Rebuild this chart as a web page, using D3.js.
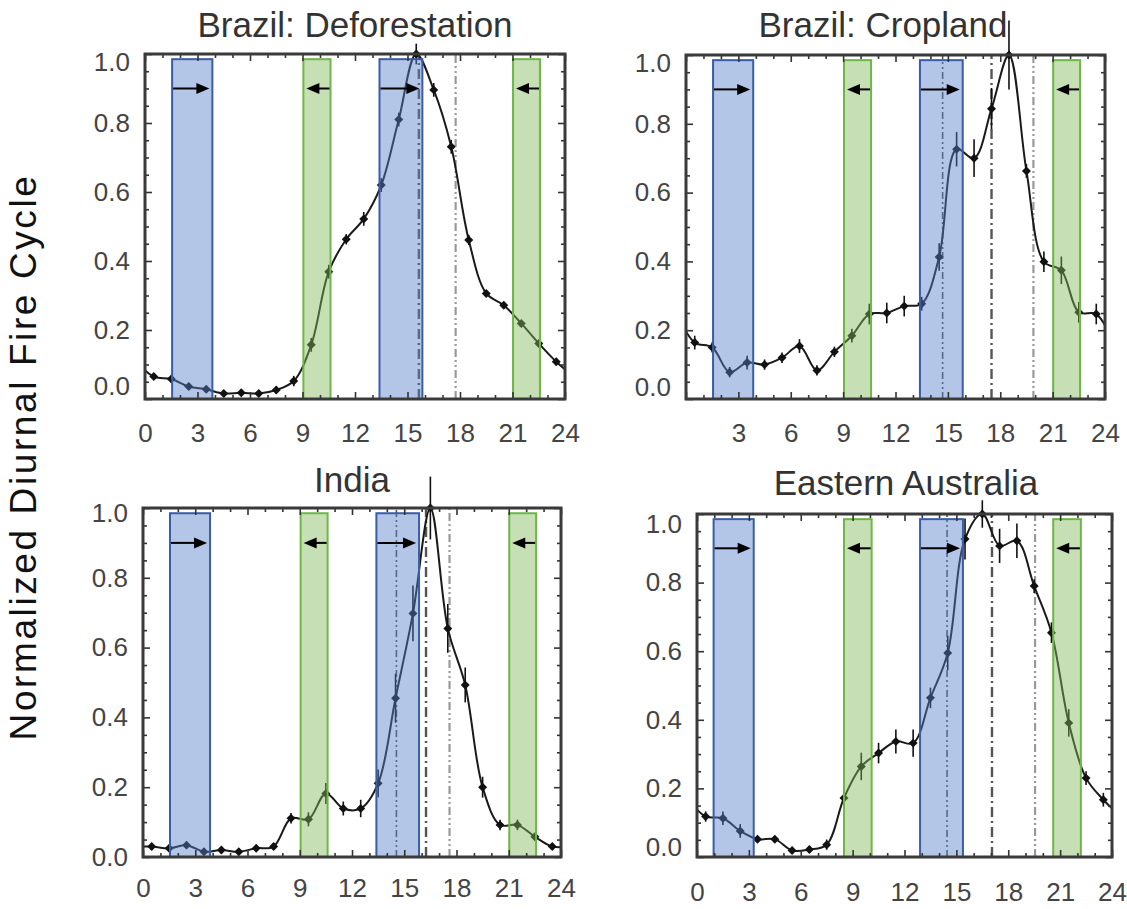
<!DOCTYPE html>
<html>
<head>
<meta charset="utf-8">
<script src="https://cdn.jsdelivr.net/npm/d3@7"></script>
<style>
  body { margin: 0; background: #fff; }
  text { font-family: "Liberation Sans", Arial, sans-serif; }
</style>
</head>
<body>
<div id="chart"></div>
<script>
// local hour of each sample (bin centres)
const hours = [0.5, 1.5, 2.5, 3.5, 4.5, 5.5, 6.5, 7.5, 8.5, 9.5, 10.5, 11.5,
               12.5, 13.5, 14.5, 15.5, 16.5, 17.5, 18.5, 19.5, 20.5, 21.5, 22.5, 23.5];
const hourTicks = [0, 3, 6, 9, 12, 15, 18, 21, 24];
const yTicks = [0, 0.2, 0.4, 0.6, 0.8, 1.0];

// normalized diurnal fire cycle
const deforestation = [0.065, 0.058, 0.036, 0.028, 0.016, 0.018, 0.016, 0.026, 0.052, 0.157, 0.369, 0.463,
                       0.522, 0.620, 0.810, 1.000, 0.896, 0.731, 0.461, 0.306, 0.272, 0.219, 0.161, 0.108];
const deforestationErr = [0.01, 0.01, 0.01, 0.01, 0.01, 0.01, 0.01, 0.01, 0.015, 0.02, 0.02, 0.015,
                          0.02, 0.02, 0.02, 0.03, 0.02, 0.02, 0.015, 0.01, 0.01, 0.01, 0.01, 0.01];

const cropland = [0.164, 0.150, 0.078, 0.106, 0.100, 0.120, 0.154, 0.083, 0.137, 0.184, 0.247, 0.250,
                  0.270, 0.277, 0.413, 0.726, 0.700, 0.844, 1.000, 0.663, 0.399, 0.374, 0.252, 0.247];
const croplandErr = [0.02, 0.015, 0.015, 0.02, 0.015, 0.015, 0.02, 0.015, 0.015, 0.02, 0.03, 0.03,
                     0.03, 0.02, 0.04, 0.05, 0.055, 0.06, 0.1, 0.02, 0.03, 0.04, 0.03, 0.03];

const india = [0.030, 0.025, 0.034, 0.015, 0.020, 0.015, 0.025, 0.030, 0.111, 0.108, 0.182, 0.139,
               0.139, 0.211, 0.455, 0.698, 1.000, 0.655, 0.493, 0.200, 0.092, 0.092, 0.058, 0.030];
const indiaErr = [0.01, 0.01, 0.01, 0.01, 0.01, 0.01, 0.01, 0.01, 0.015, 0.02, 0.03, 0.02,
                  0.025, 0.04, 0.07, 0.08, 0.09, 0.07, 0.05, 0.03, 0.015, 0.015, 0.01, 0.01];

const australia = [0.118, 0.113, 0.076, 0.052, 0.052, 0.019, 0.022, 0.036, 0.172, 0.264, 0.303, 0.337,
                   0.332, 0.464, 0.595, 0.927, 1.000, 0.907, 0.922, 0.790, 0.654, 0.391, 0.230, 0.167];
const australiaErr = [0.015, 0.02, 0.02, 0.01, 0.01, 0.01, 0.01, 0.015, 0.02, 0.04, 0.03, 0.035,
                      0.04, 0.03, 0.05, 0.06, 0.04, 0.05, 0.05, 0.02, 0.03, 0.04, 0.02, 0.02];

// overpass windows (hours): blue = ascending, green = descending
const blueWindows = [[1.55, 3.85], [13.4, 15.85]];
const greenWindows = [[9.05, 10.6], [21.03, 22.57]];
const blueWindowsAus = [[0.96, 3.28], [12.9, 15.38]];
const greenWindowsAus = [[8.5, 10.1], [20.6, 22.2]];

// vertical reference times: A = dash-dot-dot-dot, B = dash-dot, C = dash-dot-dot
const refDefor = [{h: 15.65, type: "B"}, {h: 17.75, type: "C"}];
const refCrop = [{h: 14.7, type: "A"}, {h: 17.5, type: "B"}, {h: 19.9, type: "C"}];
const refIndia = [{h: 14.55, type: "A"}, {h: 16.25, type: "B"}, {h: 17.6, type: "C"}];
const refAus = [{h: 14.46, type: "A"}, {h: 17.06, type: "B"}, {h: 19.55, type: "C"}];

const arrowLevel = 0.9;

const lineStyle = {
  A: {stroke: "#555", width: 1.6, dash: "7,3,2,3,2,3"},
  B: {stroke: "#555", width: 2.4, dash: "10,4,2,4"},
  C: {stroke: "#999", width: 2.2, dash: "8,3,2,3,2,3"}
};

const panels = [
  {title: "Brazil: Deforestation", values: deforestation, errors: deforestationErr,
   blue: blueWindows, green: greenWindows, refs: refDefor,
   xr: [145, 565], yr: [399, 54], titleX: 355, titleY: 37, labelY: 442, nudge: [-13, 8], zero: true},
  {title: "Brazil: Cropland", values: cropland, errors: croplandErr,
   blue: blueWindows, green: greenWindows, refs: refCrop,
   xr: [686, 1105], yr: [399, 55], titleX: 883, titleY: 37, labelY: 442, nudge: [-12, 8], zero: false},
  {title: "India", values: india, errors: indiaErr,
   blue: blueWindows, green: greenWindows, refs: refIndia,
   xr: [143, 561], yr: [857, 508], titleX: 352, titleY: 492, labelY: 897, nudge: [0, 5], zero: true},
  {title: "Eastern Australia", values: australia, errors: australiaErr,
   blue: blueWindowsAus, green: greenWindowsAus, refs: refAus,
   xr: [697, 1112], yr: [857, 514], titleX: 906, titleY: 495, labelY: 901, nudge: [-10, 10], zero: true}
];

const svg = d3.select("#chart").append("svg")
    .attr("width", 1127)
    .attr("height", 909);

panels.forEach((p, i) => {
  const x = d3.scaleLinear().domain([0, 24]).range(p.xr);
  const y = d3.scaleLinear().domain([0, 1]).range(p.yr);
  const g = svg.append("g");

  // clip for the curve
  const clipId = "clip" + i;
  svg.append("clipPath").attr("id", clipId)
    .append("rect")
      .attr("x", x(0)).attr("y", y(1))
      .attr("width", x(24) - x(0)).attr("height", y(0) - y(1));

  // reference time lines
  g.selectAll(".ref")
    .data(p.refs)
    .join("line")
      .attr("x1", d => x(d.h)).attr("x2", d => x(d.h))
      .attr("y1", y(0)).attr("y2", y(1))
      .attr("stroke", d => lineStyle[d.type].stroke)
      .attr("stroke-width", d => lineStyle[d.type].width)
      .attr("stroke-dasharray", d => lineStyle[d.type].dash);

  // periodic curve: wrap last/first sample around the day
  const pts = hours.map((h, k) => ({h: h, v: p.values[k], e: p.errors[k]}));
  const wrapped = [{h: hours[23] - 24, v: p.values[23]}, ...pts, {h: hours[0] + 24, v: p.values[0]}];

  g.append("path")
    .datum(wrapped)
    .attr("clip-path", `url(#${clipId})`)
    .attr("fill", "none")
    .attr("stroke", "#1a1a1a")
    .attr("stroke-width", 2)
    .attr("d", d3.line().x(d => x(d.h)).y(d => y(d.v)).curve(d3.curveCatmullRom.alpha(0.5)));

  // error bars
  g.selectAll(".err")
    .data(pts)
    .join("line")
      .attr("x1", d => x(d.h)).attr("x2", d => x(d.h))
      .attr("y1", d => y(d.v - d.e)).attr("y2", d => y(d.v + d.e))
      .attr("stroke", "#111")
      .attr("stroke-width", 1.6);

  // diamond markers
  g.selectAll(".pt")
    .data(pts)
    .join("path")
      .attr("d", d3.symbol(d3.symbolSquare, 40))
      .attr("transform", d => `translate(${x(d.h)},${y(d.v)}) rotate(45)`)
      .attr("fill", "#111");

  // overpass windows, drawn translucent over the curve
  g.selectAll(".blue")
    .data(p.blue)
    .join("rect")
      .attr("x", d => x(d[0])).attr("width", d => x(d[1]) - x(d[0]))
      .attr("y", y(0.985)).attr("height", y(0) - y(0.985))
      .attr("fill", "rgb(86,128,202)").attr("fill-opacity", 0.45)
      .attr("stroke", "#3a5da6").attr("stroke-width", 2);

  g.selectAll(".green")
    .data(p.green)
    .join("rect")
      .attr("x", d => x(d[0])).attr("width", d => x(d[1]) - x(d[0]))
      .attr("y", y(0.985)).attr("height", y(0) - y(0.985))
      .attr("fill", "rgb(128,184,88)").attr("fill-opacity", 0.45)
      .attr("stroke", "#6fb648").attr("stroke-width", 2);

  // arrows: blue point forward, green point back
  const ay = y(arrowLevel);
  const head = (tx, dir) => `M${tx},${ay} L${tx - dir * 13},${ay - 5.5} L${tx - dir * 13},${ay + 5.5} Z`;
  p.blue.forEach(w => {
    const x0 = x(w[0]) + 1, x1 = x(w[1]) - 3;
    g.append("line").attr("x1", x0).attr("x2", x1 - 6).attr("y1", ay).attr("y2", ay)
      .attr("stroke", "#000").attr("stroke-width", 2);
    g.append("path").attr("d", head(x1, 1)).attr("fill", "#000");
  });
  p.green.forEach(w => {
    const x0 = x(w[1]) - 1, x1 = x(w[0]) + 3;
    g.append("line").attr("x1", x0).attr("x2", x1 + 6).attr("y1", ay).attr("y2", ay)
      .attr("stroke", "#000").attr("stroke-width", 2);
    g.append("path").attr("d", head(x1, -1)).attr("fill", "#000");
  });

  // inward ticks on all four sides
  const minorH = d3.range(0, 25, 1).filter(h => h % 3 !== 0);
  const minorY = d3.range(0, 1.0001, 0.05).filter(v => Math.round(v * 100) % 20 !== 0);

  const styleAxis = sel => {
    sel.select(".domain").remove();
    sel.selectAll("line").attr("stroke", "#333").attr("stroke-width", 1.6);
  };

  g.append("g").attr("transform", `translate(0,${y(0)})`)
    .call(d3.axisBottom(x).tickValues(minorH).tickSize(-4).tickFormat(""))
    .call(styleAxis);
  g.append("g").attr("transform", `translate(0,${y(1)})`)
    .call(d3.axisTop(x).tickValues(minorH).tickSize(-4).tickFormat(""))
    .call(styleAxis);
  g.append("g").attr("transform", `translate(0,${y(1)})`)
    .call(d3.axisTop(x).tickValues(hourTicks).tickSize(-7).tickFormat(""))
    .call(styleAxis);
  const xb = g.append("g").attr("transform", `translate(0,${y(0)})`)
    .call(d3.axisBottom(x).tickValues(hourTicks).tickSize(-7).tickPadding(0).tickFormat(d3.format("d")))
    .call(styleAxis);
  xb.selectAll("text")
    .attr("y", p.labelY - y(0)).attr("dy", 0)
    .attr("font-size", 26).attr("fill", "#444")
    .attr("font-family", "Liberation Sans, Arial, sans-serif")
    .filter(d => d === 0 && !p.zero).remove();

  g.append("g").attr("transform", `translate(${x(0)},0)`)
    .call(d3.axisLeft(y).tickValues(minorY).tickSize(-4).tickFormat(""))
    .call(styleAxis);
  g.append("g").attr("transform", `translate(${x(24)},0)`)
    .call(d3.axisRight(y).tickValues(minorY).tickSize(-4).tickFormat(""))
    .call(styleAxis);
  g.append("g").attr("transform", `translate(${x(24)},0)`)
    .call(d3.axisRight(y).tickValues(yTicks).tickSize(-7).tickFormat(""))
    .call(styleAxis);
  const yl = g.append("g").attr("transform", `translate(${x(0)},0)`)
    .call(d3.axisLeft(y).tickValues(yTicks).tickSize(-7).tickPadding(15).tickFormat(d3.format(".1f")))
    .call(styleAxis);
  yl.selectAll("text")
    .attr("font-size", 26).attr("fill", "#444")
    .attr("font-family", "Liberation Sans, Arial, sans-serif")
    .attr("y", d => d === 0 ? p.nudge[0] : d === 1 ? p.nudge[1] : 0);

  // plot frame
  g.append("rect")
    .attr("x", x(0)).attr("y", y(1))
    .attr("width", x(24) - x(0)).attr("height", y(0) - y(1))
    .attr("fill", "none").attr("stroke", "#3a3a3a").attr("stroke-width", 3);

  // title
  svg.append("text")
    .attr("x", p.titleX).attr("y", p.titleY)
    .attr("text-anchor", "middle")
    .attr("font-size", 35)
    .attr("fill", "#333")
    .text(p.title);
});

// shared y label
svg.append("text")
  .attr("transform", "translate(36,457) rotate(-90)")
  .attr("text-anchor", "middle")
  .attr("font-family", "Open Sans, sans-serif")
  .attr("font-size", 37)
  .attr("letter-spacing", 2.6)
  .attr("fill", "#111")
  .text("Normalized Diurnal Fire Cycle");
</script>
</body>
</html>
